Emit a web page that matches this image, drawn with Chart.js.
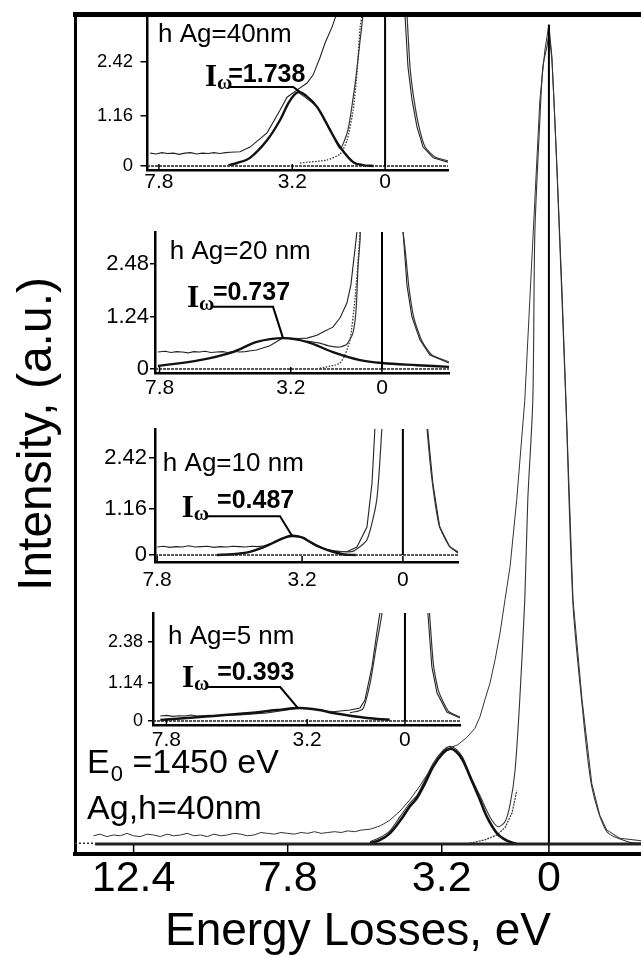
<!DOCTYPE html>
<html>
<head>
<meta charset="utf-8">
<script src="https://cdn.jsdelivr.net/npm/chart.js@4.4.1/dist/chart.umd.min.js"></script>
<style>
  html, body { margin: 0; padding: 0; background: #fff; }
  #wrap { position: relative; width: 641px; height: 957px; overflow: hidden; background: #fff; }
  #wrap canvas { position: absolute; }
</style>
</head>
<body>
<div id="wrap">
  <canvas id="mainChart" width="641" height="957" style="left:0;top:0"></canvas>
  <canvas id="in40" width="370" height="200" style="left:90px;top:0"></canvas>
  <canvas id="in20" width="370" height="185" style="left:90px;top:215px"></canvas>
  <canvas id="in10" width="380" height="180" style="left:90px;top:410px"></canvas>
  <canvas id="in5" width="380" height="160" style="left:90px;top:595px"></canvas>
</div>
<script>
const SANS = "'Liberation Sans', Arial, sans-serif";
const SERIF = "'Liberation Serif', 'Times New Roman', serif";

// ---- main spectrum (Ag, h=40nm, E0=1450 eV) ----
const mainTicks = [12.4, 7.8, 3.2, 0];
const mainTickLabels = ['12.4', '7.8', '3.2', '0'];

const mainTotalE = [13.6, 13.4, 13.2, 13.0, 12.8, 12.6, 12.4, 12.2, 12.0, 11.8, 11.6, 11.4, 11.2, 11.0, 10.8, 10.6, 10.4, 10.2, 10.0, 9.8,
  9.6, 9.4, 9.2, 9.0, 8.8, 8.6, 8.4, 8.2, 8.0, 7.8, 7.6, 7.4, 7.2, 7.0, 6.8, 6.6, 6.4, 6.2, 6.0, 5.8, 5.6,
  5.34, 5.04, 4.75, 4.45, 4.15, 3.85, 3.55, 3.25, 2.96, 2.72, 2.45, 2.21, 2.06, 1.91, 1.76, 1.61, 1.46, 1.31, 1.16, 0.96,
  0.72, 0.57, 0.42, 0.27, 0.12, 0, -0.09, -0.24, -0.39, -0.51, -0.72, -0.99, -1.28, -1.52, -1.73, -2.12, -2.75];
const mainTotalI = [1.0, 1.2, 0.9, 1.1, 1.0, 1.3, 1.0, 0.9, 1.2, 1.1, 0.9, 1.2, 1.0, 1.1, 1.3, 1.0, 1.1, 0.9, 1.2, 1.0,
  1.1, 1.3, 1.2, 1.0, 1.1, 1.4, 1.3, 1.2, 1.4, 1.3, 1.2, 1.4, 1.3, 1.5, 1.3, 1.4, 1.5, 1.4, 1.6, 1.5, 1.7,
  1.8, 2.2, 2.9, 4.0, 5.4, 7.1, 9.0, 10.6, 11.7, 12.1, 13.0, 14.1, 15.5, 17.6, 19.6, 22.4, 25.7, 29.8, 33.8, 42.0,
  54.1, 66.3, 78.5, 90.7, 96.8, 99.9, 96.0, 82.6, 67.6, 54.1, 29.8, 17.6, 7.4, 3.5, 1.7, 0.7, 0.4];

const mainFitE = [5.34, 5.04, 4.75, 4.45, 4.15, 3.94, 3.7, 3.46, 3.16, 2.96, 2.78, 2.57, 2.36, 2.06, 1.76, 1.52, 1.31, 1.16, 1.01,
  0.87, 0.72, 0.63, 0.48, 0.42, 0.27, 0.18, 0.06, 0, -0.09, -0.24, -0.51, -0.72, -0.99, -1.28, -1.73, -2.42, -2.75];
const mainFitI = [0.3, 0.8, 1.6, 3.3, 5.0, 5.9, 7.8, 9.8, 11.4, 11.9, 11.6, 10.5, 8.4, 5.9, 3.3, 2.1, 2.7, 4.8, 9.0,
  17.6, 29.8, 42.0, 54.1, 74.5, 88.3, 94.8, 97.2, 98.5, 95.5, 82.2, 53.5, 29.2, 17.0, 7.0, 1.5, 0.2, 0.1];

const mainPlasmonE = [5.34, 5.04, 4.75, 4.45, 4.15, 3.94, 3.70, 3.46, 3.16, 2.96, 2.78, 2.57, 2.27, 2.06, 1.85, 1.55, 1.25, 0.96];
const mainPlasmonI = [0.1, 0.5, 1.3, 2.8, 4.6, 5.6, 7.4, 9.4, 11.1, 11.6, 11.3, 10.2, 7.4, 5.4, 3.3, 1.3, 0.4, 0.0];

const mainTailE = [2.36, 1.91, 1.55, 1.31, 1.10, 0.96];
const mainTailI = [0.1, 0.5, 1.1, 2.0, 3.8, 6.5];

const mainBaseE = [13.55, -2.75];
const mainBaseI = [0, 0];
const mainDotE = [14.15, 13.55];
const mainDotI = [0.1, 0.1];
const mainZeroE = [0, 0];
const mainZeroI = [0, 99.9];

// ---- insets ----
const insetTitles = ['h Ag=40nm', 'h Ag=20 nm', 'h Ag=10 nm', 'h Ag=5 nm'];
const insetIw = ['1.738', '0.737', '0.487', '0.393'];
const insetXTicks = [7.8, 3.2, 0];
const insetXLabels = ['7.8', '3.2', '0'];

// h = 40 nm
const in40YTicks = [0, 1.16, 2.42];
const in40TotalE = [8.1, 7.9, 7.7, 7.5, 7.3, 7.1, 6.9, 6.7, 6.5, 6.3, 6.1, 5.9, 5.7, 5.5, 5.34,
  5.0, 4.66, 4.07, 3.62, 3.38, 3.03, 2.69, 2.48, 2.24, 2.07, 1.83, 1.66, 1.4,
  -0.5, -0.69, -0.79, -0.93, -1.10, -1.31, -1.66, -2.17];
const in40TotalI = [0.30, 0.28, 0.31, 0.29, 0.30, 0.27, 0.30, 0.31, 0.28, 0.30, 0.29, 0.31, 0.29, 0.31, 0.32,
  0.33, 0.44, 0.77, 1.30, 1.60, 1.77, 1.93, 2.12, 2.53, 2.86, 3.23, 3.56, 5.0,
  5.0, 3.47, 2.30, 1.53, 0.91, 0.44, 0.19, 0.09];
const in40FitE = [3.0, 2.34, 1.90, 1.55, 1.28, 1.03, 0.86, 0.75, 0.5, -0.5, -0.76, -0.86, -1.0, -1.17, -1.38, -1.72, -2.17];
const in40FitI = [1.72, 1.37, 0.86, 0.40, 0.84, 1.93, 2.93, 3.6, 6, 6, 3.47, 2.3, 1.53, 0.91, 0.44, 0.21, 0.12];
const in40ZlpE = [2.93, 2.0, 1.55, 1.31, 1.10, 0.97, 0.86, 0.79, 0.7];
const in40ZlpI = [0.07, 0.14, 0.28, 0.6, 1.3, 2.16, 3.23, 3.56, 4.5];
const in40PlasE = [5.4, 5.1, 4.66, 4.07, 3.62, 3.3, 3.0, 2.7, 2.34, 1.90, 1.55, 1.10, 0.76, 0.4];
const in40PlasI = [0.02, 0.07, 0.19, 0.60, 1.07, 1.50, 1.72, 1.62, 1.37, 0.84, 0.44, 0.09, 0.02, 0.0];

// h = 20 nm
const in20YTicks = [0, 1.24, 2.48];
const in20TotalE = [7.86, 7.6, 7.4, 7.2, 7.0, 6.8, 6.6, 6.4, 6.2, 6.0, 5.8, 5.6, 5.4, 5.2, 5.0, 4.8, 4.6, 4.4,
  3.93, 3.47, 2.88, 2.63, 2.28, 2.0, 1.72, 1.47, 1.23, 1.09, 1.02, 0.95, 0.88, 0.7,
  -0.6, -0.74, -0.88, -1.05, -1.33, -1.68, -2.35];
const in20TotalI = [0.40, 0.42, 0.39, 0.41, 0.40, 0.38, 0.41, 0.40, 0.42, 0.39, 0.40, 0.41, 0.39, 0.42, 0.40, 0.41, 0.43, 0.45,
  0.55, 0.74, 0.72, 0.73, 0.80, 0.90, 0.99, 1.21, 1.56, 1.99, 2.41, 2.81, 3.24, 5.0,
  5.0, 3.24, 1.96, 1.23, 0.69, 0.33, 0.14];
const in20FitE = [2.63, 2.18, 1.82, 1.47, 1.23, 1.02, 0.91, 0.84, 0.77, 0.6, -0.5, -0.6, -0.8, -0.95, -1.12, -1.40, -1.75, -2.35];
const in20FitI = [0.66, 0.61, 0.54, 0.52, 0.59, 0.85, 1.39, 2.41, 3.05, 5.0, 5.0, 4.0, 2.9, 1.9, 1.2, 0.66, 0.33, 0.17];
const in20ZlpE = [2.18, 1.65, 1.47, 1.30, 1.12, 0.95, 0.81, 0.75];
const in20ZlpI = [0.02, 0.09, 0.14, 0.33, 0.69, 1.63, 2.81, 3.5];
const in20PlasE = [7.86, 6.39, 5.23, 4.39, 3.47, 2.63, 1.72, 0.77, 0, -1.23, -2.35];
const in20PlasI = [0.07, 0.21, 0.40, 0.64, 0.73, 0.64, 0.40, 0.21, 0.14, 0.09, 0.05];

// h = 10 nm
const in10YTicks = [0, 1.16, 2.42];
const in10TotalE = [7.8, 7.6, 7.4, 7.2, 7.0, 6.8, 6.6, 6.4, 6.2, 6.0, 5.8, 5.6, 5.4, 5.2, 5.0, 4.8, 4.6, 4.4,
  4.13, 3.68, 3.27, 2.73, 2.22, 1.78, 1.46, 1.14, 0.98, 0.89, 0.75,
  -0.65, -0.79, -0.95, -1.17, -1.49, -1.75];
const in10TotalI = [0.20, 0.22, 0.19, 0.21, 0.20, 0.23, 0.20, 0.21, 0.22, 0.19, 0.21, 0.20, 0.22, 0.21, 0.20, 0.22, 0.21, 0.23,
  0.30, 0.46, 0.46, 0.22, 0.09, 0.08, 0.2, 0.7, 1.8, 3.13, 5.0,
  5.0, 3.13, 1.8, 0.7, 0.2, 0.05];
const in10FitE = [2.4, 2.0, 1.59, 1.14, 0.83, 0.67, 0.55, -0.6, -0.77, -0.93, -1.15, -1.47, -1.75];
const in10FitI = [0.13, 0.09, 0.09, 0.38, 1.38, 3.13, 5.0, 5.0, 3.13, 1.85, 0.75, 0.23, 0.08];
const in10PlasE = [5.9, 5.4, 4.86, 4.5, 4.13, 3.8, 3.52, 3.2, 2.95, 2.7, 2.41, 1.9, 1.5];
const in10PlasI = [0.0, 0.02, 0.08, 0.17, 0.30, 0.42, 0.48, 0.44, 0.33, 0.22, 0.13, 0.02, 0.0];

// h = 5 nm
const in5YTicks = [0, 1.14, 2.38];
const in5TotalE = [8.0, 7.8, 7.6, 7.4, 7.2, 7.0, 6.8, 6.6, 6.4, 6.2, 6.0, 5.8, 5.6, 5.4, 5.2,
  4.52, 3.86, 3.43, 2.88, 2.35, 1.80, 1.47, 1.31, 1.08, 0.92, 0.82, 0.7,
  -0.65, -0.75, -0.88, -1.05, -1.37, -1.8];
const in5TotalI = [0.15, 0.17, 0.14, 0.16, 0.15, 0.18, 0.15, 0.16, 0.17, 0.15, 0.18, 0.17, 0.19, 0.18, 0.20,
  0.24, 0.33, 0.40, 0.34, 0.28, 0.33, 0.39, 0.63, 1.63, 2.65, 3.25, 5.0,
  5.0, 3.25, 1.63, 0.84, 0.27, 0.09];
const in5FitE = [1.8, 1.38, 1.14, 0.92, 0.75, 0.6, -0.6, -0.8, -0.93, -1.1, -1.42, -1.8];
const in5FitI = [0.25, 0.36, 1.14, 2.35, 3.25, 5.0, 5.0, 3.25, 1.7, 0.9, 0.3, 0.12];
const in5PlasE = [8.0, 6.7, 5.07, 4.2, 3.43, 2.8, 2.35, 1.24, 0.5];
const in5PlasI = [0.03, 0.12, 0.24, 0.33, 0.39, 0.33, 0.24, 0.09, 0.04];

function pts(es, is) {
  return es.map((e, k) => ({ x: e, y: is[k] }));
}

function line(es, is, w, extra) {
  return Object.assign({
    data: pts(es, is),
    borderColor: '#111',
    borderWidth: w,
    pointRadius: 0,
    pointHoverRadius: 0,
    tension: 0,
    fill: false
  }, extra || {});
}

// small tick marks pointing into the plot from the x axis
function innerTicks(id, values, len) {
  return {
    id: id,
    afterDatasetsDraw(chart) {
      const s = chart.scales.x, ctx = chart.ctx, a = chart.chartArea;
      ctx.save();
      ctx.strokeStyle = '#000';
      ctx.lineWidth = 1.5;
      values.forEach(v => {
        const px = s.getPixelForValue(v);
        ctx.beginPath();
        ctx.moveTo(px, a.bottom);
        ctx.lineTo(px, a.bottom - len);
        ctx.stroke();
      });
      ctx.restore();
    }
  };
}

function insetNotes(id, title, value, spot) {
  return {
    id: id,
    afterDatasetsDraw(chart) {
      const sx = chart.scales.x, sy = chart.scales.y, ctx = chart.ctx;
      const X = e => sx.getPixelForValue(e);
      const Y = v => sy.getPixelForValue(v);
      ctx.save();
      ctx.fillStyle = '#000';
      ctx.textBaseline = 'alphabetic';
      ctx.textAlign = 'left';
      ctx.font = '26px ' + SANS;
      ctx.fillText(title, X(spot.title[0]), Y(spot.title[1]));

      ctx.font = 'bold 31px ' + SERIF;
      let px = X(spot.iw[0]);
      const base = Y(spot.iw[1]);
      ctx.fillText('I', px, base);
      px += ctx.measureText('I').width;
      ctx.font = 'bold 21px ' + SERIF;
      ctx.fillText('\u03c9', px, base + 3);
      ctx.font = 'bold 25px ' + SANS;
      ctx.fillText('=' + value, X(spot.num[0]), Y(spot.num[1]));

      ctx.lineWidth = 2;
      ctx.strokeStyle = '#000';
      ctx.beginPath();
      spot.leader.forEach((p, k) => {
        if (k) ctx.lineTo(X(p[0]), Y(p[1]));
        else ctx.moveTo(X(p[0]), Y(p[1]));
      });
      ctx.stroke();
      ctx.restore();
    }
  };
}

const mainNotes = {
  id: 'mainNotes',
  afterDatasetsDraw(chart) {
    const sx = chart.scales.x, sy = chart.scales.y, ctx = chart.ctx;
    ctx.save();
    ctx.fillStyle = '#000';
    ctx.textBaseline = 'alphabetic';
    ctx.textAlign = 'left';
    let px = sx.getPixelForValue(13.79);
    const b1 = sy.getPixelForValue(8.6);
    ctx.font = '34px ' + SANS;
    ctx.fillText('E', px, b1);
    px += ctx.measureText('E').width + 1;
    ctx.font = '22px ' + SANS;
    ctx.fillText('0', px, b1 + 8);
    px += ctx.measureText('0').width;
    ctx.font = '34px ' + SANS;
    ctx.fillText(' =1450 eV', px, b1);
    ctx.fillText('Ag,h=40nm', sx.getPixelForValue(13.79), sy.getPixelForValue(3.1));
    ctx.restore();
  }
};

new Chart(document.getElementById('mainChart'), {
  type: 'line',
  data: {
    datasets: [
      line(mainBaseE, mainBaseI, 3, { borderColor: '#222' }),
      line(mainDotE, mainDotI, 1.5, { borderDash: [2, 2], borderColor: '#333' }),
      line(mainZeroE, mainZeroI, 2, { borderColor: '#000' }),
      line(mainPlasmonE, mainPlasmonI, 2.6, { tension: 0.35 }),
      line(mainTailE, mainTailI, 1.2, { borderDash: [2, 1], borderColor: '#333' }),
      line(mainFitE, mainFitI, 1.1, { tension: 0.25, borderColor: '#333' }),
      line(mainTotalE, mainTotalI, 1, { borderColor: '#333' })
    ]
  },
  options: {
    responsive: false,
    animation: false,
    events: [],
    layout: { padding: 0 },
    plugins: { legend: { display: false }, tooltip: { enabled: false } },
    scales: {
      x: {
        type: 'linear', position: 'bottom', reverse: true, min: -2.75, max: 14.15,
        afterBuildTicks: s => { s.ticks = mainTicks.map(v => ({ value: v })); },
        afterFit: s => { s.height = 103; },
        grid: { display: false, drawTicks: false },
        border: { display: true, width: 4, color: '#000' },
        ticks: {
          autoSkip: false, maxRotation: 0, padding: 3.5, color: '#000',
          font: { family: SANS, size: 43, lineHeight: 1 },
          callback: (v, k) => mainTickLabels[k]
        },
        title: {
          display: true, text: 'Energy Losses, eV', color: '#000',
          font: { family: SANS, size: 46, lineHeight: 1 },
          padding: { top: 0, bottom: 2 }
        }
      },
      xTop: {
        type: 'linear', axis: 'x', position: 'top', reverse: true, min: -2.75, max: 14.15,
        afterFit: s => { s.height = 14; },
        grid: { display: false, drawTicks: false },
        border: { display: true, width: 5, color: '#000' },
        ticks: { display: false }
      },
      y: {
        type: 'linear', position: 'left', min: -1.22, max: 101.2,
        afterFit: s => { s.width = 75; },
        grid: { display: false, drawTicks: false },
        border: { display: true, width: 3, color: '#000' },
        ticks: { display: false },
        title: {
          display: true, text: 'Intensity, (a.u.)', color: '#000',
          font: { family: SANS, size: 48, lineHeight: 1 },
          padding: { top: 14, bottom: 0 }
        }
      }
    }
  },
  plugins: [innerTicks('mainTicks', mainTicks, 9), mainNotes]
});

function makeInset(canvasId, g, sets, notes) {
  const yLabels = g.yTicks.map(v => String(v));
  return new Chart(document.getElementById(canvasId), {
    type: 'line',
    data: {
      datasets: [
        line([g.xMax, g.xMin], [0, 0], 1.6, { borderDash: [3, 1], borderColor: '#222' }),
        line([0, 0], [0, g.yMax], 2, { borderColor: '#000' })
      ].concat(sets)
    },
    options: {
      responsive: false,
      animation: false,
      events: [],
      layout: { padding: { top: g.padT, right: g.padR, left: 0, bottom: 0 } },
      plugins: { legend: { display: false }, tooltip: { enabled: false } },
      scales: {
        x: {
          type: 'linear', reverse: true, min: g.xMin, max: g.xMax,
          afterBuildTicks: s => { s.ticks = insetXTicks.map(v => ({ value: v })); },
          afterFit: s => { s.height = g.xH; },
          grid: { display: false, drawTicks: false },
          border: { display: true, width: 2.5, color: '#000' },
          ticks: {
            autoSkip: false, maxRotation: 0, padding: g.xPad, color: '#000',
            font: { family: SANS, size: 21, lineHeight: 1 },
            callback: (v, k) => insetXLabels[k]
          }
        },
        y: {
          type: 'linear', min: g.yMin, max: g.yMax,
          afterBuildTicks: s => { s.ticks = g.yTicks.map(v => ({ value: v })); },
          afterFit: s => { s.width = g.yW; },
          grid: { display: true, drawOnChartArea: false, drawTicks: true, tickLength: g.yTickLen, color: '#000', lineWidth: 1.5 },
          border: { display: true, width: 2.5, color: '#000' },
          ticks: {
            autoSkip: false, padding: g.yPad, color: '#000',
            font: { family: SANS, size: g.yFont, lineHeight: 1 },
            callback: (v, k) => yLabels[k]
          }
        }
      }
    },
    plugins: [innerTicks(canvasId + 'Ticks', insetXTicks, 6), notes]
  });
}

function insetSets(totE, totI, fitE, fitI, plasE, plasI, zlpE, zlpI) {
  const out = [
    line(plasE, plasI, 2.4, { tension: 0.35 }),
    line(fitE, fitI, 1.2, { tension: 0.2, borderColor: '#333' }),
    line(totE, totI, 1.1, { borderColor: '#222' })
  ];
  if (zlpE) out.push(line(zlpE, zlpI, 1.3, { borderDash: [1.5, 1.5], tension: 0.2, borderColor: '#333' }));
  return out;
}

makeInset('in40',
  { xMin: -2.17, xMax: 8.21, yMin: -0.093, yMax: 3.465, yTicks: in40YTicks, yFont: 18.5,
    yTickLen: 6.5, yPad: 7.5, xPad: 1.5, yW: 57, padR: 12, padT: 17, xH: 30 },
  insetSets(in40TotalE, in40TotalI, in40FitE, in40FitI, in40PlasE, in40PlasI, in40ZlpE, in40ZlpI),
  insetNotes('in40Notes', insetTitles[0], insetIw[0], {
    title: [7.83, 2.88], iw: [6.21, 1.86], num: [5.41, 1.95],
    leader: [[5.41, 1.84], [3.17, 1.84], [2.93, 1.72]]
  }));

makeInset('in20',
  { xMin: -2.35, xMax: 7.96, yMin: -0.095, yMax: 3.24, yTicks: in20YTicks, yFont: 22,
    yTickLen: 5, yPad: 1, xPad: 4.5, yW: 65, padR: 11, padT: 17, xH: 27 },
  insetSets(in20TotalE, in20TotalI, in20FitE, in20FitI, in20PlasE, in20PlasI, in20ZlpE, in20ZlpI),
  insetNotes('in20Notes', insetTitles[1], insetIw[1], {
    title: [7.44, 2.60], iw: [6.84, 1.47], num: [5.93, 1.63],
    leader: [[5.93, 1.47], [3.82, 1.47], [3.47, 0.73]]
  }));

makeInset('in10',
  { xMin: -1.75, xMax: 7.87, yMin: -0.175, yMax: 3.15, yTicks: in10YTicks, yFont: 22,
    yTickLen: 6, yPad: 2, xPad: 7.5, yW: 65, padR: 12, padT: 19, xH: 28 },
  insetSets(in10TotalE, in10TotalI, in10FitE, in10FitI, in10PlasE, in10PlasI),
  insetNotes('in10Notes', insetTitles[2], insetIw[2], {
    title: [7.62, 2.10], iw: [7.02, 0.95], num: [5.90, 1.18],
    leader: [[6.19, 0.97], [3.90, 0.97], [3.52, 0.48]]
  }));

makeInset('in5',
  { xMin: -1.8, xMax: 8.24, yMin: -0.12, yMax: 3.25, yTicks: in5YTicks, yFont: 18,
    yTickLen: 5, yPad: 5, xPad: 4.5, yW: 63, padR: 10, padT: 18, xH: 30 },
  insetSets(in5TotalE, in5TotalI, in5FitE, in5FitI, in5PlasE, in5PlasI),
  insetNotes('in5Notes', insetTitles[3], insetIw[3], {
    title: [7.75, 2.32], iw: [7.29, 1.02], num: [6.14, 1.23],
    leader: [[6.44, 1.02], [4.08, 1.02], [3.50, 0.39]]
  }));
</script>
</body>
</html>
